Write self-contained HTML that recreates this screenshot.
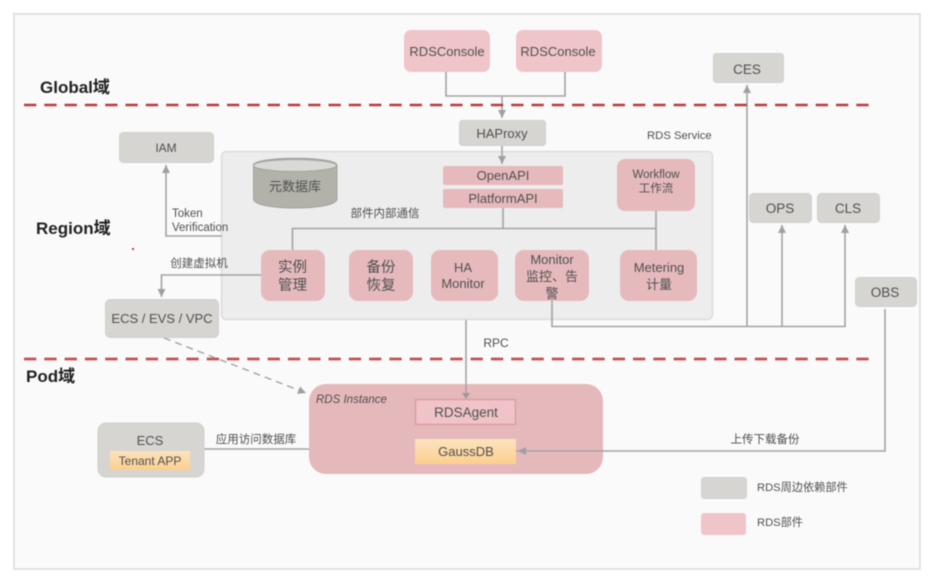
<!DOCTYPE html>
<html><head><meta charset="utf-8"><style>
html,body{margin:0;padding:0;background:#fff;width:934px;height:580px;overflow:hidden}
svg{display:block;filter:blur(0.6px)}
text{font-family:"Liberation Sans","Noto Sans CJK SC",sans-serif;fill:#505050;text-anchor:middle;font-size:13px}
.l{text-anchor:start}
.h{font-size:17px;font-weight:bold;fill:#222;text-anchor:start}
.w{fill:none;stroke:#a3a3a3;stroke-width:1.6}
.g{fill:#d6d5d2;stroke:#cfcfcc;stroke-width:1}
.p{fill:#e6babd}
.pl{fill:#efc5c9}
</style></head><body>
<svg width="934" height="580" viewBox="0 0 934 580" xmlns="http://www.w3.org/2000/svg">
<defs>
<linearGradient id="o" x1="0" y1="0" x2="0" y2="1"><stop offset="0" stop-color="#fbe3bf"/><stop offset="1" stop-color="#fdcf8e"/></linearGradient>
<marker id="a" markerWidth="10" markerHeight="10" refX="8" refY="4" orient="auto" markerUnits="userSpaceOnUse"><path d="M0 0L8 4L0 8z" fill="#a0a0a0"/></marker>
</defs>
<rect x="14" y="14" width="906" height="555" fill="#fbfafb" stroke="#dcdcdc" stroke-width="1.6"/>

<rect x="221.500" y="151.500" width="491" height="168" rx="5" fill="#ededee" stroke="#dcdcdc" stroke-width="1.500"/>

<!-- wires -->
<path class="w" d="M446 72V96H565V72"/>
<path class="w" d="M502 96V118" marker-end="url(#a)"/>
<path class="w" d="M502 146V164" marker-end="url(#a)"/>
<path class="w" d="M292.500 250V228.500H656M503 208V228.500M656 211V250"/>
<path class="w" d="M222 236H166V165" marker-end="url(#a)"/>
<path class="w" d="M261 275H161.500V297" marker-end="url(#a)"/>
<path class="w" d="M552 301V326.500H845V225" marker-end="url(#a)"/>
<path class="w" d="M747 326V85" marker-end="url(#a)"/>
<path class="w" d="M782 326V225" marker-end="url(#a)"/>
<path class="w" d="M466 320V385" stroke-width="1.800"/>
<path class="w" d="M885 309V451H518" marker-end="url(#a)"/>
<path class="w" d="M204 449H310"/>

<!-- domain dashes -->
<line x1="24" y1="105" x2="870" y2="105" stroke="#bb3a3a" stroke-width="2.600" stroke-dasharray="12.300 8"/>
<line x1="24" y1="359" x2="870" y2="359" stroke="#c45050" stroke-width="2.800" stroke-dasharray="12.300 8"/>
<path d="M164 338L306 393" fill="none" stroke="#a3a3a3" stroke-width="1.400" stroke-dasharray="7 5" marker-end="url(#a)"/>

<!-- top row -->
<rect class="pl" x="404" y="30" width="86" height="42" rx="7"/><text x="447" y="56">RDSConsole</text>
<rect class="pl" x="516" y="30" width="86" height="42" rx="7"/><text x="558" y="56">RDSConsole</text>
<rect class="g" x="713.500" y="53.500" width="70" height="29" rx="3"/><text x="747" y="74" style="font-size:13.500px">CES</text>
<rect class="g" x="459.500" y="120.500" width="86" height="25" rx="3"/><text x="502" y="138">HAProxy</text>
<text class="l" x="647" y="139" style="font-size:11.300px">RDS Service</text>
<rect class="g" x="119.500" y="132.500" width="94" height="30" rx="4"/><text x="166" y="152" style="font-size:12px">IAM</text>

<!-- cylinder -->
<path d="M253.500 165C253.500 156 337 156 337 165V199C337 211 253.500 211 253.500 199Z" fill="#b2b2aa" stroke="#a3a39c"/>
<ellipse cx="295" cy="165.500" rx="41.500" ry="6" fill="#d9d9d5" stroke="#a3a39c"/>
<text x="295" y="191" style="font-size:13px">元数据库</text>

<!-- API -->
<rect class="p" x="443" y="166" width="120" height="19" rx="2"/><text x="503" y="180">OpenAPI</text>
<rect class="p" x="443" y="189" width="120" height="19" rx="2"/><text x="503" y="203">PlatformAPI</text>
<rect class="p" x="617" y="159" width="78" height="52" rx="8"/><text x="656" y="178" style="font-size:11.500px">Workflow</text><text x="656" y="192" style="font-size:11.500px">工作流</text>
<text x="385" y="217" style="font-size:11.500px">部件内部通信</text>
<rect class="g" x="749.500" y="193.500" width="62" height="29" rx="4"/><text x="780" y="213" style="font-size:13.500px">OPS</text>
<rect class="g" x="817.500" y="193.500" width="62" height="29" rx="4"/><text x="848" y="213" style="font-size:13.500px">CLS</text>
<rect class="g" x="855.500" y="277.500" width="61" height="29" rx="4"/><text x="885" y="297" style="font-size:13.500px">OBS</text>

<text class="l" x="172" y="217" style="font-size:11.500px">Token</text>
<text class="l" x="172" y="231" style="font-size:11.500px">Verification</text>
<text x="199" y="267" style="font-size:11.500px">创建虚拟机</text>

<!-- components -->
<rect class="p" x="261" y="250" width="64" height="51" rx="9"/><text x="292.500" y="272" style="font-size:14.500px">实例</text><text x="292.500" y="290" style="font-size:14.500px">管理</text>
<rect class="p" x="349" y="250" width="64" height="51" rx="9"/><text x="381" y="272" style="font-size:14.500px">备份</text><text x="381" y="290" style="font-size:14.500px">恢复</text>
<rect class="p" x="431" y="250" width="67" height="51" rx="9"/><text x="463" y="272">HA</text><text x="463" y="288">Monitor</text>
<rect class="p" x="515" y="250" width="74" height="51" rx="9"/><text x="552" y="264">Monitor</text><text x="552" y="281">监控、告</text><text x="552" y="298">警</text>
<rect class="p" x="620" y="250" width="77" height="51" rx="9"/><text x="659" y="272">Metering</text><text x="659" y="289">计量</text>
<rect class="g" x="105.500" y="299.500" width="113" height="38" rx="5"/><text x="162" y="323">ECS / EVS / VPC</text>
<text x="496" y="347" style="font-size:12px">RPC</text>

<!-- headings -->
<text class="h" x="40" y="93">Global域</text>
<text class="h" x="36" y="234">Region域</text>
<text class="h" x="26" y="382">Pod域</text>
<rect x="132" y="248" width="2" height="2" fill="#d33"/>

<!-- instance -->
<rect x="309" y="384" width="294" height="90" rx="17" fill="#e5b9bc"/>
<text class="l" x="316" y="403" style="font-size:11.500px;font-style:italic">RDS Instance</text>
<rect x="415.500" y="399.500" width="100" height="25" fill="#efc3c8" stroke="#dd9ea3" stroke-width="1.500"/><text x="466" y="417" style="font-size:13.500px">RDSAgent</text>
<rect x="415" y="439" width="101" height="25" fill="url(#o)"/><text x="466" y="456">GaussDB</text>
<path d="M466 384V398" stroke="#b09a9c" stroke-width="1.400"/>
<path d="M462 393L466 399L470 393Z" fill="#a89497"/>
<path class="w" d="M516 451H604"/>
<path d="M518 451L526 447V455Z" fill="#a0a0a0"/>

<rect class="g" x="98" y="423" width="106" height="54" rx="8"/>
<text x="150" y="445">ECS</text>
<rect x="110" y="451" width="80" height="19" fill="url(#o)"/><text x="150" y="465" style="font-size:12px">Tenant APP</text>
<text x="256" y="443" style="font-size:11.500px">应用访问数据库</text>
<text x="765" y="443" style="font-size:11.500px">上传下载备份</text>

<!-- legend -->
<rect class="g" x="701.500" y="477.500" width="45" height="21" rx="3"/>
<text class="l" x="757" y="491" style="font-size:11.200px">RDS周边依赖部件</text>
<rect class="pl" x="701" y="513" width="45" height="22" rx="3"/>
<text class="l" x="757" y="526" style="font-size:11.200px">RDS部件</text>
</svg>
</body></html>
